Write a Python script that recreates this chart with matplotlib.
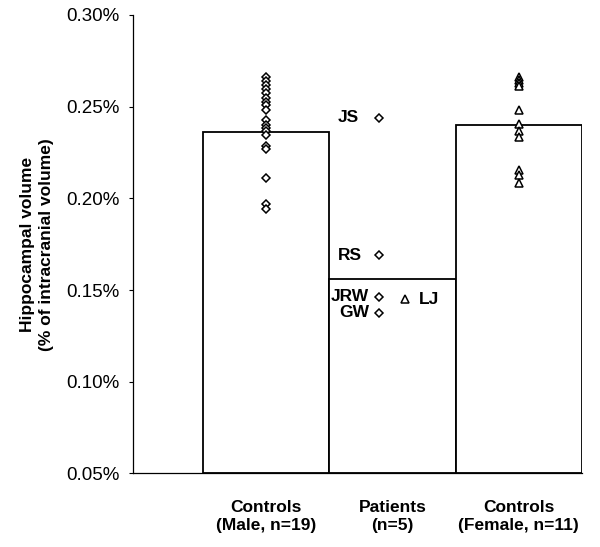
import numpy as np
import matplotlib; matplotlib.use("Agg")
import matplotlib.pyplot as plt

plt.rcParams["font.family"] = ["Liberation Sans", "DejaVu Sans"]

# ── data (hippocampal volume, % of intracranial volume) ──
groups = ["Controls\n(Male, n=19)", "Patients\n(n=5)", "Controls\n(Female, n=11)"]
group_means = [0.2364, 0.1561, 0.2399]

male_controls = [0.2662, 0.2640, 0.2620, 0.2598, 0.2572, 0.2550, 0.2525, 0.2507,
                 0.2482, 0.2425, 0.2400, 0.2382, 0.2368, 0.2345, 0.2286,
                 0.2268, 0.2110, 0.1970, 0.1941]
female_controls = [0.2662, 0.2646, 0.2630, 0.2613, 0.2482, 0.2406, 0.2370,
                   0.2332, 0.2157, 0.2128, 0.2084]

patient_names = ["JS", "RS", "JRW", "GW", "LJ"]
patient_values = [0.2440, 0.1690, 0.1464, 0.1377, 0.1450]
patient_sex = ["M", "M", "M", "M", "F"]

# ── figure ──
fig = plt.figure(figsize=(6.0, 5.47), dpi=100)
ax = fig.add_axes([0.2217, 0.1344, 0.97 - 0.2217, 0.9726 - 0.1344])

x = np.arange(len(groups))
ax.bar(x, [m - 0.05 for m in group_means], bottom=0.05, width=1.0,
       facecolor="white", edgecolor="black", linewidth=1.3, zorder=1)

mk = dict(mfc="white", mec="black", mew=1.1, ls="none", zorder=3)
ax.plot(np.full(len(male_controls), x[0]), male_controls, marker="D", ms=4.4, **mk)
ax.plot(np.full(len(female_controls), x[2]), female_controls, marker="^", ms=5.8, **mk)

label_off = {"JS": -14, "RS": -12, "JRW": -7, "GW": -7, "LJ": 10}
for name, v, s in zip(patient_names, patient_values, patient_sex):
    px = x[1] - 0.11 if s == "M" else x[1] + 0.1
    ax.plot([px], [v], marker="D" if s == "M" else "^",
            ms=4.4 if s == "M" else 5.8, **mk)
    off = label_off[name]
    ax.annotate(name, (px, v), xytext=(off, 0), textcoords="offset points",
                ha="right" if off < 0 else "left", va="center",
                fontsize=12.5, fontweight="bold")

ax.set_xlim(-1.054, 2.5)
ax.set_ylim(0.05, 0.30)
yt = np.arange(0.05, 0.301, 0.05)
ax.set_yticks(yt)
ax.set_yticklabels([f"{v:.2f}%" for v in yt], fontsize=13.5)
ax.tick_params(axis="y", direction="out", length=3, width=0.8, pad=6.5)

ax.set_xticks(x)
ax.set_xticklabels(groups, fontsize=12.5, fontweight="bold", linespacing=1.3)
ax.tick_params(axis="x", length=0, pad=19)

for side in ("top", "right"):
    ax.spines[side].set_visible(False)
for side in ("left", "bottom"):
    ax.spines[side].set_linewidth(0.9)

ax.set_ylabel("Hippocampal volume\n(% of intracranial volume)",
              fontsize=12.5, fontweight="bold", linespacing=1.35)
ax.yaxis.set_label_coords(-0.175, 0.5)

fig.savefig("out.png", dpi=100, facecolor="white")
